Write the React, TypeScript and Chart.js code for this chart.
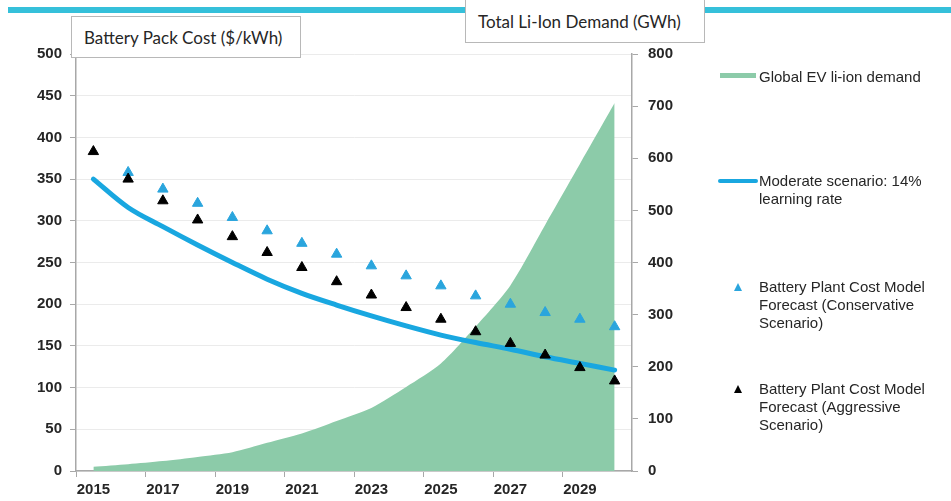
import React, { useEffect, useRef } from 'react';
import { Chart, registerables } from 'chart.js';

Chart.register(...registerables);

const years = ['2015', '2016', '2017', '2018', '2019', '2020', '2021', '2022', '2023', '2024', '2025', '2026', '2027', '2028', '2029', '2030'];
const demandGWh = [8, 13, 19, 27, 36, 54, 72, 96, 121, 161, 206, 277, 356, 472, 589, 706];
const moderateCost = [350, 316, 293, 271, 250, 230, 213, 199, 186, 174, 163, 154, 146, 137, 129, 121];
const conservativeCost = [null, 358, 338, 321, 304, 288, 273, 260, 246, 234, 222, 210, 200, 190, 182, 173];
const aggressiveCost = [383, 350, 324, 301, 281, 262, 244, 227, 211, 196, 182, 167, 153, 139, 124, 108];

const leftTitle = 'Battery Pack Cost ($/kWh)';
const rightTitle = 'Total Li-Ion Demand (GWh)';
const legendDemand = 'Global EV li-ion demand';
const legendModerate = ['Moderate scenario: 14%', 'learning rate'];
const legendConservative = ['Battery Plant Cost Model', 'Forecast (Conservative', 'Scenario)'];
const legendAggressive = ['Battery Plant Cost Model', 'Forecast (Aggressive', 'Scenario)'];

const GREEN = '#8ccba9';
const BLUE_LINE = '#19a7e0';
const BLUE_TRI = '#2aa5dd';
const AXIS = '#a8a8a8';
const TEXT = '#262626';

const legendFont: React.CSSProperties = {
  position: 'absolute',
  font: '15px "Liberation Sans", Arial, sans-serif',
  color: TEXT,
  lineHeight: '18px',
  whiteSpace: 'nowrap',
};

function Tri({ left, top, color }: { left: number; top: number; color: string }) {
  return (
    <div
      style={{
        position: 'absolute',
        left: left - 4,
        top: top - 4,
        width: 0,
        height: 0,
        borderLeft: '4.5px solid transparent',
        borderRight: '4.5px solid transparent',
        borderBottom: `8px solid ${color}`,
      }}
    />
  );
}

export default function App() {
  const canvasRef = useRef<HTMLCanvasElement>(null);

  useEffect(() => {
    const canvas = canvasRef.current;
    if (!canvas) return;
    Chart.defaults.font.family = '"Liberation Sans", Arial, sans-serif';
    const chart = new Chart(canvas, {
      type: 'line',
      data: {
        labels: years,
        datasets: [
          {
            label: legendDemand,
            data: demandGWh,
            yAxisID: 'y2',
            fill: 'origin',
            backgroundColor: GREEN,
            borderColor: 'rgba(0,0,0,0)',
            borderWidth: 0,
            pointRadius: 0,
            tension: 0.25,
            order: 4,
          },
          {
            label: legendModerate.join(' '),
            data: moderateCost,
            yAxisID: 'y',
            fill: false,
            borderColor: BLUE_LINE,
            borderWidth: 5,
            pointRadius: 0,
            tension: 0.4,
            cubicInterpolationMode: 'monotone',
            borderCapStyle: 'round',
            order: 3,
          },
          {
            label: legendConservative.join(' '),
            data: conservativeCost,
            yAxisID: 'y',
            showLine: false,
            pointStyle: 'triangle',
            pointRadius: 6,
            pointBorderWidth: 1,
            backgroundColor: BLUE_TRI,
            borderColor: BLUE_TRI,
            order: 2,
          },
          {
            label: legendAggressive.join(' '),
            data: aggressiveCost,
            yAxisID: 'y',
            showLine: false,
            pointStyle: 'triangle',
            pointRadius: 6,
            pointBorderWidth: 1,
            backgroundColor: '#000000',
            borderColor: '#000000',
            order: 1,
          },
        ],
      },
      options: {
        responsive: false,
        animation: false,
        layout: { padding: { left: 0, right: 0, top: 54, bottom: 0 } },
        plugins: { legend: { display: false }, tooltip: { enabled: false } },
        scales: {
          x: {
            type: 'category',
            offset: true,
            afterFit: (s: any) => { s.height = 30; },
            grid: {
              offset: true,
              drawOnChartArea: false,
              drawTicks: true,
              tickLength: 6,
              color: (ctx: any) => (ctx.index % 2 === 0 ? AXIS : 'rgba(0,0,0,0)'),
            },
            border: { display: true, color: AXIS, width: 1.5 },
            ticks: {
              autoSkip: false,
              maxRotation: 0,
              padding: 4,
              color: TEXT,
              font: { size: 15, weight: 'bold' },
              callback: (_v: any, i: number) => (i % 2 === 0 ? years[i] : ''),
            },
          },
          y: {
            position: 'left',
            min: 0,
            max: 500,
            afterFit: (s: any) => { s.width = 76; },
            grid: { color: '#ebebeb', tickColor: AXIS, tickLength: 6, lineWidth: 1 },
            border: { display: true, color: AXIS, width: 1.5 },
            ticks: { stepSize: 50, padding: 8, color: TEXT, font: { size: 15, weight: 'bold' } },
          },
          y2: {
            position: 'right',
            min: 0,
            max: 800,
            afterFit: (s: any) => { s.width = 951 - 632; },
            grid: { drawOnChartArea: false, tickColor: AXIS, tickLength: 6 },
            border: { display: true, color: AXIS, width: 1.5 },
            ticks: { stepSize: 100, padding: 10, color: TEXT, font: { size: 15, weight: 'bold' } },
          },
        },
      },
    } as any);
    return () => chart.destroy();
  }, []);

  return (
    <div style={{ position: 'absolute', left: 0, top: 0, width: 951, height: 501, background: '#ffffff', overflow: 'hidden' }}>
      <canvas ref={canvasRef} width={951} height={501} style={{ position: 'absolute', left: 0, top: 0 }} />
      {/* top decorative bars */}
      <div style={{ position: 'absolute', left: 8, top: 7, width: 457, height: 6, background: '#35c0da' }} />
      <div style={{ position: 'absolute', left: 705, top: 7, width: 246, height: 6, background: '#35c0da' }} />
      {/* axis title boxes */}
      <div
        style={{
          position: 'absolute', left: 71, top: 16, width: 230, height: 42,
          background: '#fff', border: '1px solid #b8b8b8', boxSizing: 'border-box',
          font: '17px Lato, "Open Sans", sans-serif', color: TEXT,
          display: 'flex', alignItems: 'center', paddingLeft: 12, whiteSpace: 'nowrap',
        }}
      >
        {leftTitle}
      </div>
      <div
        style={{
          position: 'absolute', left: 465, top: -1, width: 240, height: 44,
          background: '#fff', border: '1px solid #b8b8b8', boxSizing: 'border-box',
          font: '17px Lato, "Open Sans", sans-serif', color: TEXT,
          display: 'flex', alignItems: 'center', paddingLeft: 12, whiteSpace: 'nowrap',
        }}
      >
        {rightTitle}
      </div>
      {/* legend */}
      <div style={{ position: 'absolute', left: 720, top: 73, width: 36, height: 5, background: GREEN }} />
      <div style={{ ...legendFont, left: 759, top: 68 }}>{legendDemand}</div>

      <div style={{ position: 'absolute', left: 718, top: 179, width: 40, height: 4, borderRadius: 2, background: BLUE_LINE }} />
      <div style={{ ...legendFont, left: 759, top: 172 }}>
        {legendModerate.map((t) => <div key={t}>{t}</div>)}
      </div>

      <Tri left={738} top={287} color={BLUE_TRI} />
      <div style={{ ...legendFont, left: 759, top: 278 }}>
        {legendConservative.map((t) => <div key={t}>{t}</div>)}
      </div>

      <Tri left={738} top={389} color="#000000" />
      <div style={{ ...legendFont, left: 759, top: 380 }}>
        {legendAggressive.map((t) => <div key={t}>{t}</div>)}
      </div>
    </div>
  );
}
